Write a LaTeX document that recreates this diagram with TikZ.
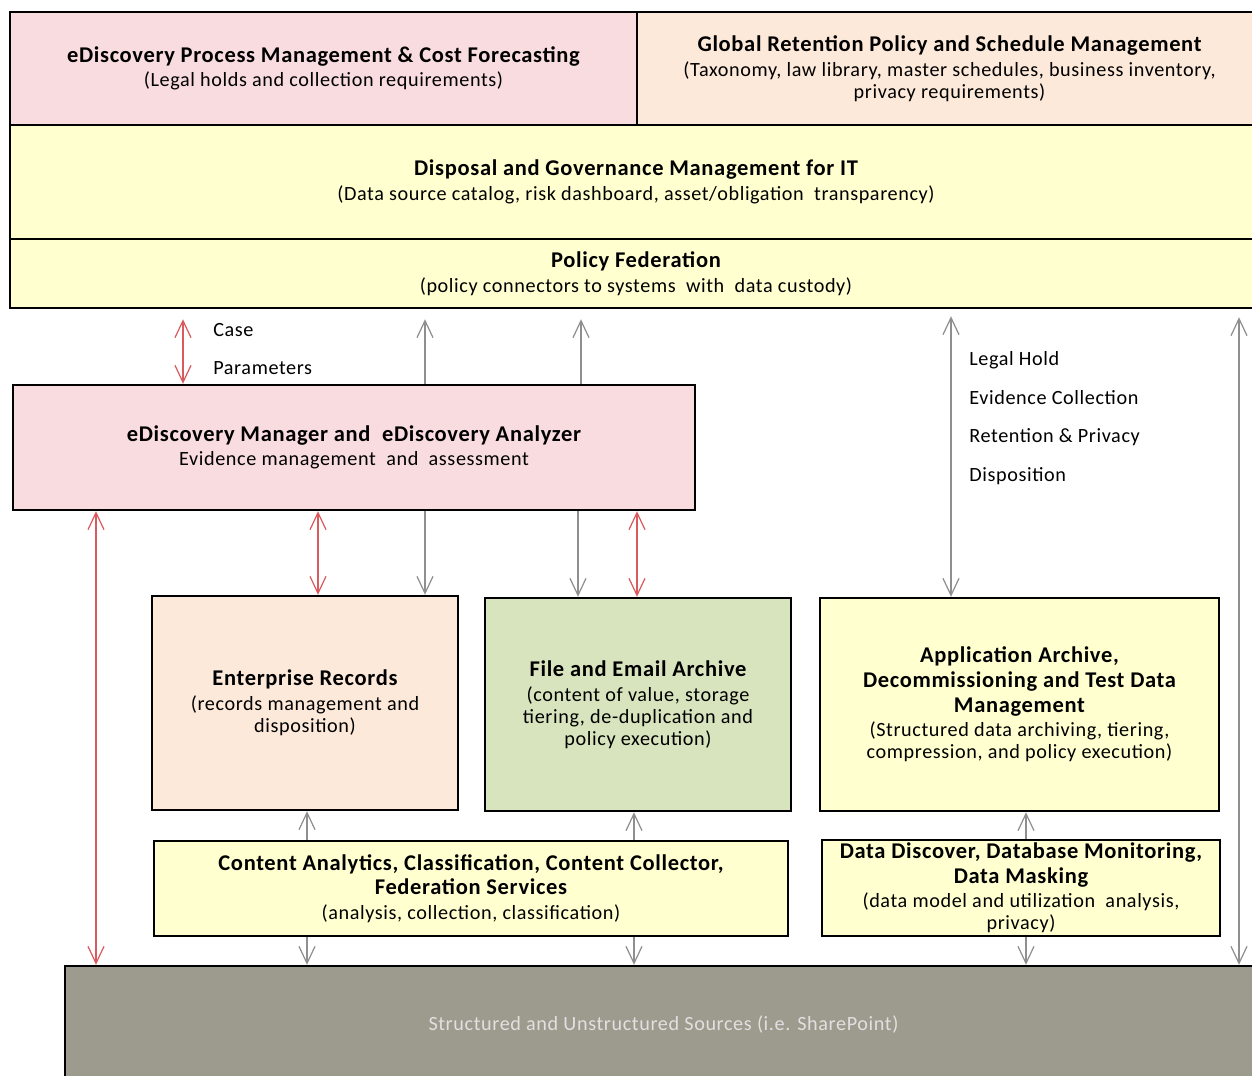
\documentclass[tikz,border=0pt]{standalone}
\usepackage{fontspec}
\setmainfont{Carlito}[LetterSpace=3]
\usetikzlibrary{arrows.meta}
\definecolor{pinkbox}{HTML}{F9DCE0}
\definecolor{peachbox}{HTML}{FDE9DA}
\definecolor{yellowbox}{HTML}{FFFFD0}
\definecolor{greenbox}{HTML}{D8E4BD}
\definecolor{graybox}{HTML}{9D9B8E}
\definecolor{redline}{HTML}{D95B5E}
\definecolor{grayline}{HTML}{8F8F8F}
\newcommand{\tf}{\fontsize{12.8}{12.5}\selectfont\bfseries}

\begin{document}
\begin{tikzpicture}[x=0.02cm, y=-0.02cm,
        >={Straight Barb[length=0.34cm, width=0.32cm]},
        blk/.style={draw=black, line width=1.4pt, inner sep=0pt, align=center,
                font=\fontsize{11.5}{12.5}\selectfont},
        lbl/.style={anchor=west, inner sep=0pt, font=\fontsize{11.5}{12.5}\selectfont},
        redarr/.style={draw=redline, line width=0.7pt},
        grayarr/.style={draw=grayline, line width=0.7pt}]
        \useasboundingbox (0,0) rectangle (1252,1076);
        % upper layer
        \node (pm) [blk, fill=pinkbox, minimum width=12.54cm, minimum height=2.26cm] at (323.5, 68.5)
                {{\tf eDiscovery Process Management \& Cost Forecasting}\\[1.5pt](Legal holds and collection requirements)};
        \node (grp) [blk, fill=peachbox, minimum width=12.5cm, minimum height=2.26cm] at (949.5, 68.5)
                {{\tf Global Retention Policy and Schedule Management}\\[1.5pt](Taxonomy, law library, master schedules, business inventory,\\privacy requirements)};
        \node (dgm) [blk, fill=yellowbox, minimum width=25.04cm, minimum height=2.28cm] at (636, 182)
                {{\tf Disposal and Governance Management for IT}\\[1.5pt](Data source catalog, risk dashboard, asset/obligation\ \ transparency)};
        \node (fed) [blk, fill=yellowbox, minimum width=25.04cm, minimum height=1.38cm] at (636, 273.5)
                {{\tf Policy Federation}\\[1.5pt](policy connectors to systems\ \ with\ \ data custody)};
        % middle layer
        \node (mgr) [blk, fill=pinkbox, minimum width=13.64cm, minimum height=2.5cm] at (354, 447.5)
                {{\tf eDiscovery Manager and\ \ eDiscovery Analyzer}\\[1.5pt]Evidence management\ \ and\ \ assessment};
        \node (er) [blk, fill=peachbox, minimum width=6.12cm, minimum height=4.28cm] at (305, 703)
                {{\tf Enterprise Records}\\[1.5pt](records management and\\disposition)};
        \node (fea) [blk, fill=greenbox, minimum width=6.12cm, minimum height=4.26cm] at (638, 704.5)
                {{\tf File and Email Archive}\\[1.5pt](content of value, storage\\tiering, de-duplication and\\policy execution)};
        \node (aa) [blk, fill=yellowbox, minimum width=7.98cm, minimum height=4.26cm] at (1019.5, 704.5)
                {{\tf Application Archive,}\\[1.5pt]{\tf Decommissioning and Test Data}\\[1.5pt]{\tf Management}\\[1.5pt](Structured data archiving, tiering,\\compression, and policy execution)};
        \node (ca) [blk, fill=yellowbox, minimum width=12.68cm, minimum height=1.9cm] at (471, 888.5)
                {{\tf Content Analytics, Classification, Content Collector,}\\[1.5pt]{\tf Federation Services}\\[1.5pt](analysis, collection, classification)};
        \node (dd) [blk, fill=yellowbox, minimum width=7.96cm, minimum height=1.92cm] at (1021, 888)
                {{\tf Data Discover, Database Monitoring,}\\[1.5pt]{\tf Data Masking}\\[1.5pt](data model and utilization\ \ analysis,\\privacy)};
        \node (src) [blk, fill=graybox, text=white!88!black, minimum width=23.94cm, minimum height=2.32cm,
                font=\fontsize{11.5}{13}\selectfont] at (663.5, 1024)
                {Structured and Unstructured Sources (i.e. SharePoint)};
        % labels
        \node (lcase) [lbl] at (213, 330) {Case};
        \node (lpar) [lbl] at (213, 368) {Parameters};
        \node (lhold) [lbl] at (969, 360) {Legal Hold};
        \node (lcoll) [lbl] at (969, 398) {Evidence Collection};
        \node (lret) [lbl] at (969, 437) {Retention \& Privacy};
        \node (ldisp) [lbl] at (969, 476) {Disposition};
        % arrow columns
        \coordinate (c1) at (183, 0);
        \coordinate (c2) at (425, 0);
        \coordinate (c3) at (581, 0);
        \coordinate (c4) at (951, 0);
        \coordinate (c5) at (1239, 0);
        \coordinate (c6) at (96, 0);
        \coordinate (c7) at (318, 0);
        \coordinate (c8) at (578, 0);
        \coordinate (c9) at (637, 0);
        \coordinate (c10) at (307, 0);
        \coordinate (c11) at (634, 0);
        \coordinate (c12) at (1026, 0);
        % connectors
        \draw (fed.south -| c1) edge [redarr, <->, shorten <=0.2cm] (mgr.north -| c1);
        \draw (mgr.north -| c2) edge [grayarr, ->, shorten >=0.2cm] (fed.south -| c2);
        \draw (mgr.north -| c3) edge [grayarr, ->, shorten >=0.2cm] (fed.south -| c3);
        \draw (fed.south -| c4) edge [grayarr, <->, shorten <=0.14cm] (aa.north -| c4);
        \draw (fed.south -| c5) edge [grayarr, <->, shorten <=0.16cm] (src.north -| c5);
        \draw (mgr.south -| c6) edge [redarr, <->] (src.north -| c6);
        \draw (mgr.south -| c7) edge [redarr, <->] (er.north -| c7);
        \draw (mgr.south -| c2) edge [grayarr, ->] (er.north -| c2);
        \draw (mgr.south -| c8) edge [grayarr, ->] (fea.north -| c8);
        \draw (mgr.south -| c9) edge [redarr, <->] (fea.north -| c9);
        \draw (ca.north -| c10) edge [grayarr, ->] (er.south -| c10);
        \draw (ca.south -| c10) edge [grayarr, ->] (src.north -| c10);
        \draw (ca.north -| c11) edge [grayarr, ->] (fea.south -| c11);
        \draw (ca.south -| c11) edge [grayarr, ->] (src.north -| c11);
        \draw (dd.north -| c12) edge [grayarr, ->] (aa.south -| c12);
        \draw (dd.south -| c12) edge [grayarr, ->] (src.north -| c12);
\end{tikzpicture}
\end{document}
